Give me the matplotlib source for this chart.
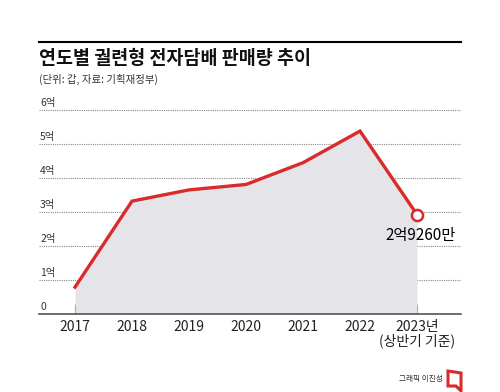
import matplotlib
matplotlib.use("Agg")
import matplotlib.pyplot as plt
from matplotlib.patches import Polygon

plt.rcParams['font.family'] = ['Noto Sans CJK KR', 'DejaVu Sans']

years = ['2017', '2018', '2019', '2020', '2021', '2022', '2023년\n(상반기 기준)']
values = [0.79, 3.32, 3.65, 3.81, 4.45, 5.38, 2.926]  # 억 갑
ytick_vals = [0, 1, 2, 3, 4, 5, 6]
ytick_labels = ['0', '1억', '2억', '3억', '4억', '5억', '6억']
title = '연도별 궐련형 전자담배 판매량 추이'
subtitle = '(단위: 갑, 자료: 기획재정부)'
last_label = '2억9260만'
credit = '그래픽 이진성'

W, H = 500, 392
fig = plt.figure(figsize=(W / 100, H / 100), dpi=100)
fig.patch.set_facecolor('white')

# axes placement in pixels
ax_left, ax_right = 39, 461
y0_px, unit_px = 314, 34
ymax = 6.2
top_px = y0_px - ymax * unit_px
ax = fig.add_axes([ax_left / W, (H - y0_px) / H, (ax_right - ax_left) / W, (y0_px - top_px) / H])
x = list(range(len(years)))
xmin = -(75 - ax_left) / 57
xmax = len(years) - 1 + (ax_right - 417) / 57
ax.set_xlim(xmin, xmax)
ax.set_ylim(0, ymax)

for sp in ['top', 'right', 'left']:
    ax.spines[sp].set_visible(False)
ax.spines['bottom'].set_color('#555555')
ax.spines['bottom'].set_linewidth(1.2)

# grid lines
for v in ytick_vals[1:]:
    ax.axhline(v, color='#8a8a8a', lw=0.8, ls=(0, (1, 1)), zorder=1, xmax=1.0)
ax.set_yticks([])

# y labels above gridlines
for v, lab in zip(ytick_vals, ytick_labels):
    ax.text(xmin + 0.02, v + 0.07, lab, ha='left', va='bottom', fontsize=7.5, color='#333333')

ax.fill_between(x, values, 0, color='#e5e5e9', zorder=2, lw=0)
ax.plot(x, values, color='#d92b2b', lw=2.4, zorder=3, solid_joinstyle='miter')
ax.plot(x[-1], values[-1], 'o', ms=8, mfc='white', mec='#d92b2b', mew=1.8, zorder=4)
ax.text(x[-1] + 0.07, values[-1] - 0.36, last_label, ha='center', va='top', fontsize=11, color='black')

ax.set_xticks(x)
ax.set_xticklabels(years, fontsize=10, color='#222222', linespacing=1.0)
ax.tick_params(axis='x', direction='in', length=7, width=0.8, color='#777777', pad=4)

# header
fig.add_artist(plt.Line2D([ax_left / W, ax_right / W], [1 - 42 / H, 1 - 42 / H], color='black', lw=1.5))
fig.text(ax_left / W, 1 - 58 / H, title, fontsize=13.3, fontweight='bold', ha='left', va='center', color='#111111')
fig.text(ax_left / W, 1 - 79 / H, subtitle, fontsize=7.5, ha='left', va='center', color='#333333')

# credit
fig.text(443 / W, 1 - 379 / H, credit, fontsize=5.5, ha='right', va='center', color='#333333')
logo = Polygon([[448 / W, 1 - 371 / H], [461 / W, 1 - 373 / H], [461 / W, 1 - 391 / H],
                [456 / W, 1 - 386 / H], [448 / W, 1 - 386 / H]], closed=True,
               fill=False, edgecolor='#d92b2b', lw=2.2, transform=fig.transFigure)
fig.add_artist(logo)

fig.savefig('out.png', dpi=100)
